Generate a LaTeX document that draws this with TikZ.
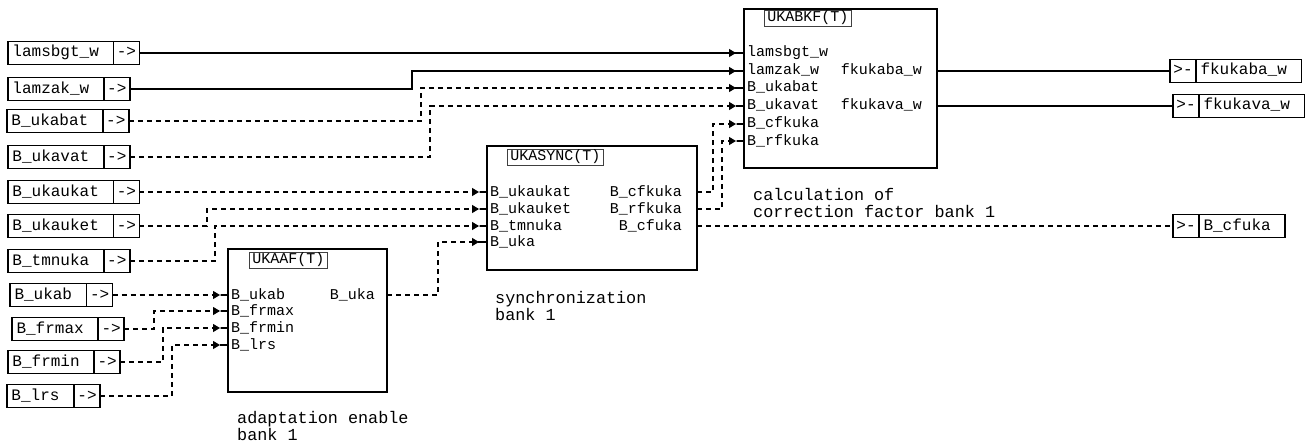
\documentclass[tikz,border=0pt]{standalone}
\usepackage{fontspec}
\setmainfont{Liberation Mono}
\usetikzlibrary{positioning,arrows.meta,calc}

\tikzset{
  sig/.style={line width=1.1pt},
  bsig/.style={line width=1.1pt, dash pattern=on 5pt off 4pt},
  port/.style={-{Triangle[length=7pt,width=8pt,sep=0pt]Rectangle[length=8pt,width=1.1pt,sep=0pt]}},
  iobox/.style={draw, line width=1.5pt, outer sep=0pt, inner ysep=0pt,
    minimum height=23pt, text height=11pt, text depth=3pt,
    font=\fontsize{16}{16}\selectfont},
  namebox/.style={iobox, inner xsep=4.5pt, execute at end node={\hspace{10pt}}},
  dirbox/.style={iobox, inner xsep=3.4pt},
  block/.style={draw, line width=2.6pt, outer sep=0pt, inner sep=0pt},
  blocktitle/.style={draw=black!75, line width=0.8pt, inner xsep=3pt, inner ysep=1.5pt,
    text height=10pt, text depth=3pt, font=\fontsize{15}{15}\selectfont, anchor=north west},
  plabel/.style={inner xsep=3pt, inner ysep=0pt, text height=10pt, text depth=2pt,
    font=\fontsize{15}{15}\selectfont},
  caption/.style={align=left, inner sep=0pt, anchor=north west,
    font=\fontsize{16.8}{17.5}\selectfont}
}

\begin{document}
\begin{tikzpicture}[x=1pt, y=-1pt]
  \useasboundingbox (0,0) rectangle (1310,444);

  % Blocks
  \node[block, minimum width=159pt, minimum height=143pt, anchor=north west] (aaf) at (228,249) {};
  \node[block, minimum width=210pt, minimum height=124pt, anchor=north west] (sync) at (487,146) {};
  \node[block, minimum width=193pt, minimum height=159pt, anchor=north west] (bkf) at (744,9) {};

  \node[blocktitle] at ([shift={(21,3)}]aaf.north west) {UKAAF(T)};
  \node[blocktitle] at ([shift={(20,3)}]sync.north west) {UKASYNC(T)};
  \node[blocktitle] at ([shift={(20,1)}]bkf.north west) {UKABKF(T)};

  % Ports of the blocks
  \foreach \lbl/\y [count=\i] in {B\_ukab/295, B\_frmax/311, B\_frmin/328, B\_lrs/345}
    \node[plabel, anchor=west] (aaf-i\i) at (228,\y) {\lbl};
  \foreach \lbl/\y [count=\i] in {B\_ukaukat/192, B\_ukauket/209, B\_tmnuka/226, B\_uka/242}
    \node[plabel, anchor=west] (sync-i\i) at (487,\y) {\lbl};
  \foreach \lbl/\y [count=\i] in {lamsbgt\_w/53, lamzak\_w/71, B\_ukabat/88,
      B\_ukavat/106, B\_cfkuka/124, B\_rfkuka/141}
    \node[plabel, anchor=west] (bkf-i\i) at (744,\y) {\lbl};

  \coordinate (aaf-o1) at (aaf.east |- aaf-i1);
  \coordinate (sync-o1) at (sync.east |- sync-i1);
  \coordinate (sync-o2) at (sync.east |- sync-i2);
  \coordinate (sync-o3) at (sync.east |- sync-i3);
  \coordinate (bkf-o1) at (bkf.east |- bkf-i2);
  \coordinate (bkf-o2) at (bkf.east |- bkf-i4);

  \node[plabel, anchor=east, xshift=-9pt] at (aaf-o1) {B\_uka};
  \node[plabel, anchor=east, xshift=-12pt] at (sync-o1) {B\_cfkuka};
  \node[plabel, anchor=east, xshift=-12pt] at (sync-o2) {B\_rfkuka};
  \node[plabel, anchor=east, xshift=-12pt] at (sync-o3) {B\_cfuka};
  \node[plabel, anchor=east, xshift=-12pt] at (bkf-o1) {fkukaba\_w};
  \node[plabel, anchor=east, xshift=-12pt] at (bkf-o2) {fkukava\_w};

  % Captions
  \node[caption] at (237,411) {adaptation enable\\bank 1};
  \node[caption] at (495,291) {synchronization\\bank 1};
  \node[caption] at (753,188) {calculation of\\correction factor bank 1};

  % Inputs
  \node[namebox, anchor=west] (lamsbgt) at (8,53) {lamsbgt\_w};
  \node[dirbox, right=0pt of lamsbgt] (lamsbgt-a) {->};
  \node[namebox, anchor=west] (lamzak) at (8,89) {lamzak\_w};
  \node[dirbox, right=0pt of lamzak] (lamzak-a) {->};
  \node[namebox, anchor=west] (ukabat) at (7,121) {B\_ukabat};
  \node[dirbox, right=0pt of ukabat] (ukabat-a) {->};
  \node[namebox, anchor=west] (ukavat) at (8,157) {B\_ukavat};
  \node[dirbox, right=0pt of ukavat] (ukavat-a) {->};
  \node[namebox, anchor=west] (ukaukat) at (8,192) {B\_ukaukat};
  \node[dirbox, right=0pt of ukaukat] (ukaukat-a) {->};
  \node[namebox, anchor=west] (ukauket) at (8,226) {B\_ukauket};
  \node[dirbox, right=0pt of ukauket] (ukauket-a) {->};
  \node[namebox, anchor=west] (tmnuka) at (8,261) {B\_tmnuka};
  \node[dirbox, right=0pt of tmnuka] (tmnuka-a) {->};
  \node[namebox, anchor=west] (ukab) at (10,295) {B\_ukab};
  \node[dirbox, right=0pt of ukab] (ukab-a) {->};
  \node[namebox, anchor=west] (frmax) at (12,329) {B\_frmax};
  \node[dirbox, right=0pt of frmax] (frmax-a) {->};
  \node[namebox, anchor=west] (frmin) at (8,362) {B\_frmin};
  \node[dirbox, right=0pt of frmin] (frmin-a) {->};
  \node[namebox, anchor=west] (lrs) at (7,396) {B\_lrs};
  \node[dirbox, right=0pt of lrs] (lrs-a) {->};

  % Outputs
  \node[dirbox, anchor=west] (fkukaba-a) at (1170,71) {>-};
  \node[namebox, right=0pt of fkukaba-a] (fkukaba) {fkukaba\_w};
  \node[dirbox, anchor=west] (fkukava-a) at (1173,106) {>-};
  \node[namebox, right=0pt of fkukava-a] (fkukava) {fkukava\_w};
  \node[dirbox, anchor=west] (cfuka-a) at (1173,226) {>-};
  \node[namebox, right=0pt of cfuka-a] (cfuka) {B\_cfuka};

  % Connections to UKABKF
  \draw[sig, port] (lamsbgt-a.east) -- (bkf-i1.west);
  \draw[sig, port] (lamzak-a.east) -| ([xshift=-332pt]bkf-i2.west) -- (bkf-i2.west);
  \draw[bsig, port] (ukabat-a.east) -| ([xshift=-323pt]bkf-i3.west) -- (bkf-i3.west);
  \draw[bsig, port] (ukavat-a.east) -| ([xshift=-314pt]bkf-i4.west) -- (bkf-i4.west);
  \draw[bsig, port] (sync-o1) -| ([xshift=-31pt]bkf-i5.west) -- (bkf-i5.west);
  \draw[bsig, port] (sync-o2) -| ([xshift=-22pt]bkf-i6.west) -- (bkf-i6.west);

  % Connections to UKASYNC
  \draw[bsig, port] (ukaukat-a.east) -- (sync-i1.west);
  \draw[bsig, port] (ukauket-a.east) -| ([xshift=-280pt]sync-i2.west) -- (sync-i2.west);
  \draw[bsig, port] (tmnuka-a.east) -| ([xshift=-272pt]sync-i3.west) -- (sync-i3.west);
  \draw[bsig, port] (aaf-o1) -| ([xshift=-49pt]sync-i4.west) -- (sync-i4.west);

  % Connections to UKAAF
  \draw[bsig, port] (ukab-a.east) -- (aaf-i1.west);
  \draw[bsig, port] (frmax-a.east) -| ([xshift=-74pt]aaf-i2.west) -- (aaf-i2.west);
  \draw[bsig, port] (frmin-a.east) -| ([xshift=-65pt]aaf-i3.west) -- (aaf-i3.west);
  \draw[bsig, port] (lrs-a.east) -| ([xshift=-56pt]aaf-i4.west) -- (aaf-i4.west);

  % Outputs
  \draw[sig] (bkf-o1) -- (fkukaba-a.west);
  \draw[sig] (bkf-o2) -- (fkukava-a.west);
  \draw[bsig] (sync-o3) -- (cfuka-a.west);
\end{tikzpicture}
\end{document}
